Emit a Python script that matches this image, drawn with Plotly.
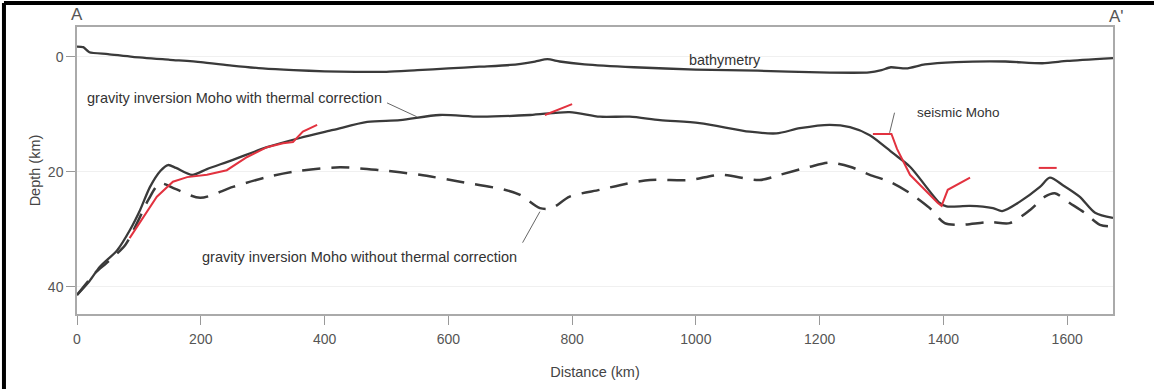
import plotly.graph_objects as go

# ---- data (distance km, depth km) ----
bathy_x = [0, 10, 20, 50, 90, 150, 200, 250, 300, 350, 400, 450, 500, 550, 600, 650, 700, 740, 760, 780, 820, 900, 1000, 1100, 1200, 1280, 1300, 1315, 1340, 1370, 1420, 1500, 1560, 1600, 1674]
bathy_y = [-1.8, -1.7, -0.8, -0.5, 0.0, 0.5, 0.9, 1.5, 2.0, 2.3, 2.5, 2.6, 2.6, 2.3, 2.0, 1.7, 1.4, 0.8, 0.4, 0.8, 1.3, 1.8, 2.2, 2.4, 2.7, 2.7, 2.3, 1.8, 2.0, 1.3, 0.9, 0.8, 1.1, 0.7, 0.2]

moho_tc_x = [0, 20, 37, 65, 86, 102, 118, 135, 147, 160, 186, 210, 252, 307, 360, 414, 469, 522, 586, 651, 732, 796, 845, 893, 942, 1006, 1087, 1130, 1168, 1216, 1249, 1281, 1318, 1346, 1394, 1405, 1443, 1480, 1495, 1523, 1556, 1572, 1593, 1620, 1645, 1674]
moho_tc_y = [41.4, 39.0, 36.5, 33.6, 30.0, 26.6, 22.6, 19.8, 18.8, 19.3, 20.5, 19.5, 17.9, 15.7, 14.1, 12.7, 11.3, 11.0, 10.1, 10.4, 10.1, 9.6, 10.4, 10.4, 11.0, 11.5, 13.0, 13.3, 12.4, 11.8, 12.2, 13.6, 16.7, 19.1, 25.4, 26.0, 25.9, 26.3, 26.8, 25.2, 22.6, 21.0, 22.3, 24.3, 27.1, 28.0]

moho_ntc_x = [0, 29, 48, 78, 97, 115, 134, 160, 199, 252, 307, 360, 425, 490, 554, 619, 691, 716, 748, 767, 796, 845, 877, 926, 990, 1039, 1103, 1136, 1184, 1216, 1249, 1281, 1313, 1346, 1378, 1402, 1426, 1475, 1507, 1540, 1564, 1580, 1604, 1628, 1653, 1674]
moho_ntc_y = [41.4, 37.6, 35.8, 32.7, 28.9, 24.9, 22.0, 23.0, 24.5, 22.6, 20.9, 19.8, 19.2, 19.7, 20.5, 21.7, 23.1, 24.0, 26.3, 26.3, 24.3, 23.1, 22.3, 21.4, 21.4, 20.5, 21.4, 20.5, 19.1, 18.4, 19.1, 20.5, 21.7, 23.7, 26.3, 28.9, 29.2, 28.7, 28.9, 26.6, 24.3, 23.7, 25.4, 27.1, 29.2, 29.5]

seis1_x = [85, 113, 129, 155, 178, 210, 242, 275, 307, 333, 349, 365, 388]
seis1_y = [31.5, 27.0, 24.3, 21.7, 20.9, 20.5, 19.7, 17.4, 15.7, 15.0, 14.8, 13.0, 11.8]
seis2_x = [756, 800]
seis2_y = [10.1, 8.2]
seis3_x = [1286, 1316, 1325, 1335, 1346, 1391, 1397, 1407, 1443]
seis3_y = [13.4, 13.4, 16.0, 18.2, 20.5, 25.4, 25.9, 23.1, 21.0]
seis4_x = [1554, 1583]
seis4_y = [19.3, 19.3]

x_ticks = [0, 200, 400, 600, 800, 1000, 1200, 1400, 1600]
y_ticks = [0, 20, 40]

DARK = "#3a3a3a"
RED = "#e2323f"

fig = go.Figure()
fig.add_trace(go.Scatter(x=bathy_x, y=bathy_y, mode="lines", line=dict(color=DARK, width=2.3, shape="spline", smoothing=0.6)))
fig.add_trace(go.Scatter(x=moho_ntc_x, y=moho_ntc_y, mode="lines", line=dict(color=DARK, width=2.5, dash="18px,11px", shape="spline", smoothing=0.8)))
fig.add_trace(go.Scatter(x=moho_tc_x, y=moho_tc_y, mode="lines", line=dict(color=DARK, width=2.3, shape="spline", smoothing=0.8)))
for sx, sy in [(seis1_x, seis1_y), (seis2_x, seis2_y), (seis3_x, seis3_y), (seis4_x, seis4_y)]:
    fig.add_trace(go.Scatter(x=sx, y=sy, mode="lines", line=dict(color=RED, width=2)))

FONT = "Liberation Sans, Arial, sans-serif"
ann = [
    dict(x=1047, y=0.5, text="bathymetry", size=14.4),
    dict(x=254, y=7.1, text="gravity inversion Moho with thermal correction", size=14.5),
    dict(x=1424, y=9.6, text="seismic Moho", size=13.5),
    dict(x=457, y=34.8, text="gravity inversion Moho without thermal correction", size=14.5),
]
annotations = [dict(x=a["x"], y=a["y"], text=a["text"], xref="x", yref="y", showarrow=False,
                    xanchor="center", yanchor="middle",
                    font=dict(family=FONT, size=a["size"], color="#333")) for a in ann]
annotations += [
    dict(x=0.0, y=1.042, xref="paper", yref="paper", text="A", showarrow=False, xanchor="center", yanchor="middle",
         font=dict(family=FONT, size=17, color="#555")),
    dict(x=1.003, y=1.035, xref="paper", yref="paper", text="A'", showarrow=False, xanchor="center", yanchor="middle",
         font=dict(family=FONT, size=17, color="#555")),
]

shapes = [
    dict(type="line", xref="x", yref="y", x0=501, y0=8.0, x1=549, y1=10.4, line=dict(color="#666", width=1)),
    dict(type="line", xref="x", yref="y", x0=1321, y0=9.7, x1=1313, y1=13.2, line=dict(color="#666", width=1)),
    dict(type="line", xref="x", yref="y", x0=720, y0=32.3, x1=748, y1=26.9, line=dict(color="#666", width=1)),
    # black frame of the figure (top and left)
    dict(type="line", xref="paper", yref="paper", x0=-0.0705, y0=1.0836, x1=1.05, y1=1.0836, line=dict(color="black", width=4)),
    dict(type="line", xref="paper", yref="paper", x0=-0.0705, y0=1.0836, x1=-0.0705, y1=-0.3, line=dict(color="black", width=4)),
]

fig.update_layout(
    width=1154, height=389,
    margin=dict(l=77, r=41, t=27, b=75),
    paper_bgcolor="white", plot_bgcolor="white",
    showlegend=False,
    font=dict(family=FONT, color="#444"),
    annotations=annotations,
    shapes=shapes,
)
fig.update_xaxes(range=[0, 1674], tickvals=x_ticks, ticks="outside", ticklen=9, tickcolor="#999",
                 showline=True, linecolor="#aaa", linewidth=1.5, mirror=True, showgrid=False, zeroline=False,
                 automargin=False, ticklabelstandoff=2,
                 tickfont=dict(size=14, color="#555"),
                 title=dict(text="Distance (km)", font=dict(size=14.5, color="#444"), standoff=21))
fig.update_yaxes(range=[44.7, -5.2], tickvals=y_ticks, ticks="outside", ticklen=9, tickcolor="#999",
                 showline=True, linecolor="#aaa", linewidth=1.5, mirror=True, showgrid=True, gridcolor="#f0f0f0",
                 zeroline=False, automargin=False, tickfont=dict(size=14, color="#555"),
                 title=dict(text="Depth (km)", font=dict(size=14.5, color="#444"), standoff=4))

fig.write_html("out.html", config={"displayModeBar": False},
               post_script="document.body.style.margin='0';document.body.style.overflow='hidden';")
